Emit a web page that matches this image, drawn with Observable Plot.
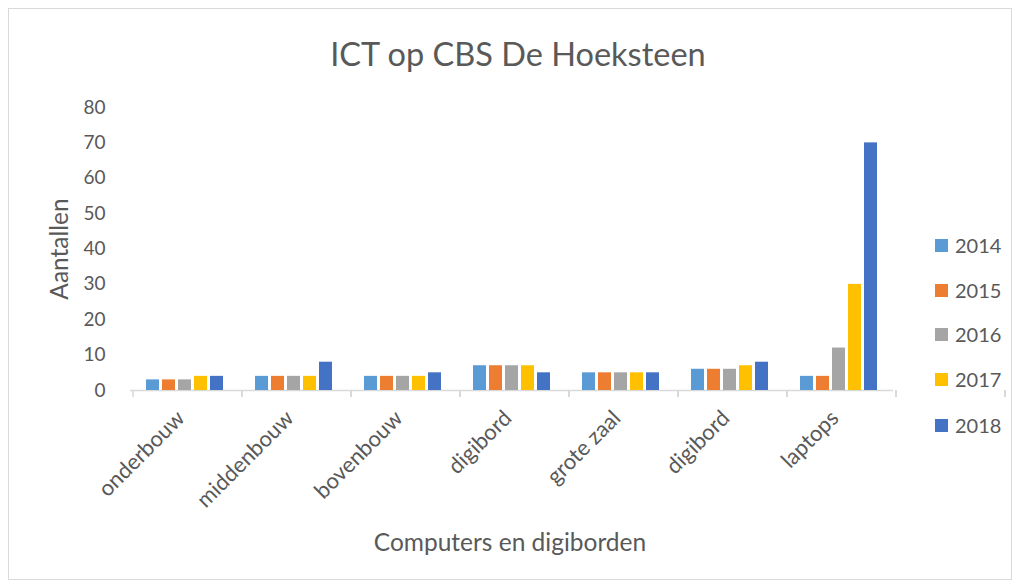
<!DOCTYPE html>
<html>
<head>
<meta charset="utf-8">
<script src="https://cdn.jsdelivr.net/npm/d3@7"></script>
<script src="https://cdn.jsdelivr.net/npm/@observablehq/plot@0.6"></script>
<style>
  html, body { margin: 0; padding: 0; background: #fff; }
  #wrap { position: relative; width: 1020px; height: 586px; font-family: Lato, "Open Sans", sans-serif; color: #595959; overflow: hidden; }
  #frame { position: absolute; left: 8px; top: 8px; width: 1002px; height: 570px; border: 1px solid #d9d9d9; }
  #title { position: absolute; left: 0; width: 1036px; top: 34px; text-align: center; font-size: 32.5px; line-height: 40px; }
  #chart { position: absolute; left: 0; top: 90px; }
  #xtitle { position: absolute; left: 0; width: 1020px; top: 527px; text-align: center; font-size: 24.5px; line-height: 30px; }
  #legend { position: absolute; left: 935px; top: 0; }
  .li { position: absolute; left: 0; width: 90px; height: 26px; display: flex; align-items: center; font-size: 20px; white-space: nowrap; }
  .sw { width: 13px; height: 13px; margin-right: 7px; flex: none; }
  #chart text { fill: #595959; }
</style>
</head>
<body>
<div id="wrap">
  <div id="frame"></div>
  <div id="title"></div>
  <div id="chart"></div>
  <div id="xtitle"></div>
  <div id="legend"></div>
</div>
<script>
const title = "ICT op CBS De Hoeksteen";
const yTitle = "Aantallen";
const xTitle = "Computers en digiborden";
const categories = ["onderbouw", "middenbouw", "bovenbouw", "digibord", "grote zaal", "digibord", "laptops"];
const years = ["2014", "2015", "2016", "2017", "2018"];
const colors = ["#5B9BD5", "#ED7D31", "#A5A5A5", "#FFC000", "#4472C4"];
const v2014 = [3, 4, 4, 7, 5, 6, 4];
const v2015 = [3, 4, 4, 7, 5, 6, 4];
const v2016 = [3, 4, 4, 7, 5, 6, 12];
const v2017 = [4, 4, 4, 7, 5, 7, 30];
const v2018 = [4, 8, 5, 5, 5, 8, 70];
const yTicks = [0, 10, 20, 30, 40, 50, 60, 70, 80];

const series = [v2014, v2015, v2016, v2017, v2018];
const table = [];
categories.forEach((c, i) => {
  years.forEach((y, j) => table.push({g: i, year: y, value: series[j][i]}));
});

document.getElementById("title").textContent = title;
document.getElementById("xtitle").textContent = xTitle;

// tick marks at the category boundaries, placed with the fx band scale
const boundaryTicks = (index, scales) => {
  const g = d3.create("svg:g");
  const fx = scales.fx;
  const keys = fx.domain();
  const xs = keys.map(k => fx(k));
  xs.push(fx(keys[keys.length - 1]) + fx.bandwidth());
  const y0 = scales.y(0);
  for (const x of xs) {
    g.append("line").attr("x1", x).attr("x2", x).attr("y1", y0).attr("y2", y0 + 7)
      .attr("stroke", "#d9d9d9").attr("stroke-width", 1.5);
  }
  return g.node();
};

const chart = Plot.plot({
  width: 1020,
  height: 430,
  marginTop: 17,
  marginBottom: 130,
  marginLeft: 127,
  marginRight: 125,
  style: {fontFamily: "Lato, 'Open Sans', sans-serif", color: "#595959", background: "transparent", overflow: "visible"},
  fx: {domain: d3.range(categories.length), padding: 0},
  x: {type: "band", domain: years, paddingInner: 0.2, paddingOuter: 0.86, axis: null},
  y: {domain: [0, 80]},
  color: {domain: years, range: colors},
  marks: [
    Plot.axisY({ticks: yTicks, tickSize: 0, tickPadding: 25, fontSize: 19, label: null}),
    Plot.axisY({ticks: [], label: yTitle, labelAnchor: "center", labelArrow: "none", labelOffset: 80, fontSize: 24.5}),
    Plot.axisFx({anchor: "bottom", tickRotate: -45, tickSize: 0, tickPadding: 24, dx: -4, fontSize: 22, label: null, tickFormat: i => categories[i]}),
    Plot.ruleY([0], {stroke: "#d9d9d9", strokeWidth: 1.5}),
    boundaryTicks,
    Plot.barY(table, {fx: "g", x: "year", y: "value", fill: "year"})
  ]
});
document.getElementById("chart").appendChild(chart);

const legend = document.getElementById("legend");
const legendTop = [232, 277, 321, 366, 412];
years.forEach((y, j) => {
  const d = document.createElement("div");
  d.className = "li";
  d.style.top = legendTop[j] + "px";
  const s = document.createElement("span");
  s.className = "sw";
  s.style.background = colors[j];
  d.appendChild(s);
  d.appendChild(document.createTextNode(y));
  legend.appendChild(d);
});
</script>
</body>
</html>
